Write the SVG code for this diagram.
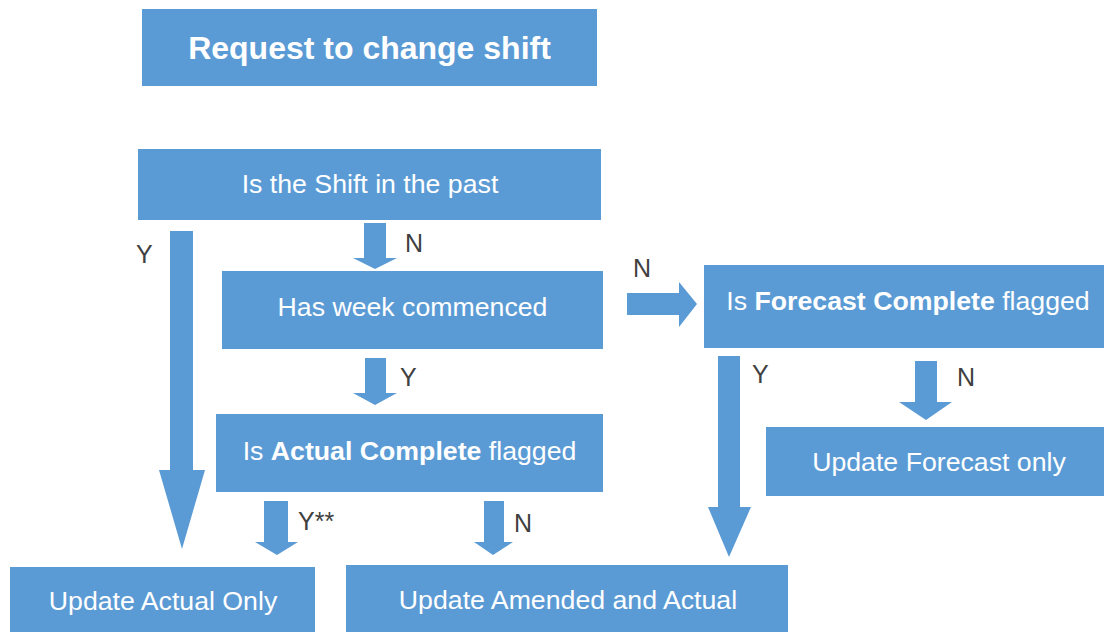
<svg xmlns="http://www.w3.org/2000/svg" width="1104" height="632" viewBox="0 0 1104 632">
<style>
.box{fill:#5B9BD5}
.arr{fill:#5B9BD5}
.t{font-family:"Liberation Sans",Arial,sans-serif;font-size:26.7px;fill:#FFFFFF;text-anchor:middle}
.b{font-weight:bold}
.title{font-size:32px}
.lbl{font-family:"Liberation Sans",Arial,sans-serif;font-size:25px;fill:#404040}
</style>
<rect width="1104" height="632" fill="#FFFFFF"/>
<g id="connectors">
<polygon class="arr" points="170,231 193,231 193,470 205,470 182,549 159,470 170,470"/>
<polygon class="arr" points="364,223 386,223 386,258 397,258 375,269 353,258 364,258"/>
<polygon class="arr" points="627,293 679,293 679,282 697,304 679,327 679,315 627,315"/>
<polygon class="arr" points="365,358 386,358 386,393 397,393 375,405 353,393 365,393"/>
<polygon class="arr" points="718,356 740,356 740,507 751,507 729,557 708,507 718,507"/>
<polygon class="arr" points="915,361 937,361 937,402 952,402 926,420 899,402 915,402"/>
<polygon class="arr" points="264,501 288,501 288,542 298,542 277,555 255,542 264,542"/>
<polygon class="arr" points="484,501 504,501 504,542 513,542 493,555 474,542 484,542"/>
<text class="lbl" x="136" y="263">Y</text>
<text class="lbl" x="405" y="252">N</text>
<text class="lbl" x="633" y="277">N</text>
<text class="lbl" x="400" y="386">Y</text>
<text class="lbl" x="752" y="383">Y</text>
<text class="lbl" x="957" y="386">N</text>
<text class="lbl" x="298" y="530">Y**</text>
<text class="lbl" x="514" y="532">N</text>
</g>
<g id="request">
<rect class="box" x="142" y="9" width="455" height="77"/>
<text class="t b title" x="369.5" y="59">Request to change shift</text>
</g>
<g id="shift-past">
<rect class="box" x="138" y="149" width="463" height="71"/>
<text class="t" x="370" y="193">Is the Shift in the past</text>
</g>
<g id="week-commenced">
<rect class="box" x="222" y="271" width="381" height="78"/>
<text class="t" x="412.5" y="316">Has week commenced</text>
</g>
<g id="forecast-complete">
<rect class="box" x="704" y="265" width="400" height="83"/>
<text class="t" x="908" y="310">Is <tspan class="b">Forecast Complete</tspan> flagged</text>
</g>
<g id="actual-complete">
<rect class="box" x="216" y="414" width="387" height="78"/>
<text class="t" x="409.5" y="460">Is <tspan class="b">Actual Complete</tspan> flagged</text>
</g>
<g id="update-forecast">
<rect class="box" x="766" y="427" width="338" height="69"/>
<text class="t" x="939" y="471">Update Forecast only</text>
</g>
<g id="update-actual">
<rect class="box" x="10" y="567" width="305" height="65"/>
<text class="t" x="163" y="610">Update Actual Only</text>
</g>
<g id="update-amended">
<rect class="box" x="346" y="565" width="442" height="67"/>
<text class="t" x="568" y="609">Update Amended and Actual</text>
</g>
</svg>
